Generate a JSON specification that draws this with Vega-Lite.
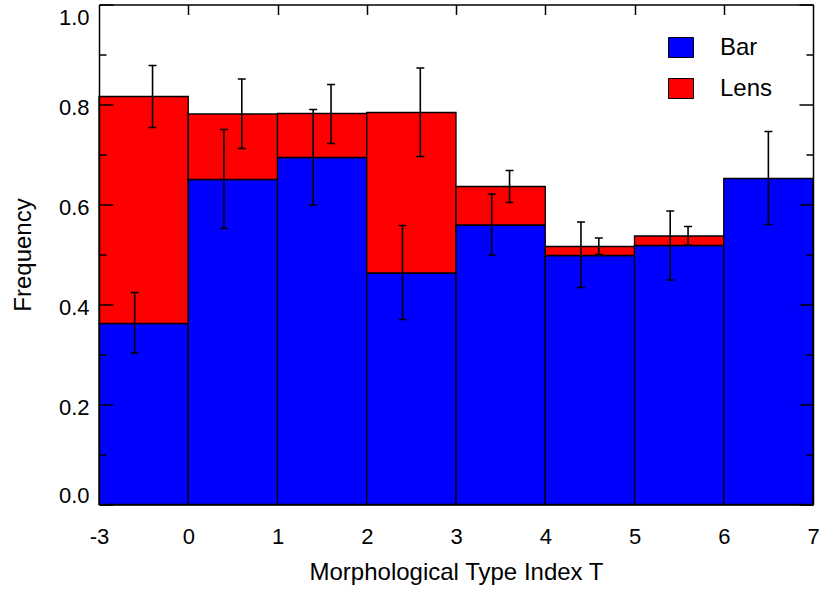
{
  "$schema": "https://vega.github.io/schema/vega-lite/v6.json",
  "width": 714,
  "height": 500,
  "autosize": {"type": "none"},
  "padding": {"left": 99, "top": 4.5, "right": 17, "bottom": 88.5},
  "background": "white",
  "config": {
    "view": {"stroke": null},
    "font": "Liberation Sans",
    "axis": {"labelColor": "black", "titleColor": "black", "tickColor": "black", "domainColor": "black", "grid": false, "titleFontWeight": "normal"}
  },
  "datasets": {
    "bins": [
      {"t0": -1, "t1": 0, "type": "Bar", "value": 0.362},
      {"t0": -1, "t1": 0, "type": "Lens", "value": 0.454},
      {"t0": 0, "t1": 1, "type": "Bar", "value": 0.650},
      {"t0": 0, "t1": 1, "type": "Lens", "value": 0.131},
      {"t0": 1, "t1": 2, "type": "Bar", "value": 0.694},
      {"t0": 1, "t1": 2, "type": "Lens", "value": 0.088},
      {"t0": 2, "t1": 3, "type": "Bar", "value": 0.463},
      {"t0": 2, "t1": 3, "type": "Lens", "value": 0.321},
      {"t0": 3, "t1": 4, "type": "Bar", "value": 0.559},
      {"t0": 3, "t1": 4, "type": "Lens", "value": 0.077},
      {"t0": 4, "t1": 5, "type": "Bar", "value": 0.498},
      {"t0": 4, "t1": 5, "type": "Lens", "value": 0.018},
      {"t0": 5, "t1": 6, "type": "Bar", "value": 0.518},
      {"t0": 5, "t1": 6, "type": "Lens", "value": 0.019},
      {"t0": 6, "t1": 7, "type": "Bar", "value": 0.652}
    ],
    "errs": [
      {"x": -0.6, "lo": 0.303, "hi": 0.424},
      {"x": 0.4, "lo": 0.552, "hi": 0.750},
      {"x": 1.4, "lo": 0.599, "hi": 0.790},
      {"x": 2.4, "lo": 0.370, "hi": 0.558},
      {"x": 3.4, "lo": 0.499, "hi": 0.621},
      {"x": 4.4, "lo": 0.434, "hi": 0.565},
      {"x": 5.4, "lo": 0.449, "hi": 0.587},
      {"x": 6.5, "lo": 0.560, "hi": 0.746},
      {"x": -0.4, "lo": 0.754, "hi": 0.878},
      {"x": 0.6, "lo": 0.712, "hi": 0.851},
      {"x": 1.6, "lo": 0.722, "hi": 0.840},
      {"x": 2.6, "lo": 0.696, "hi": 0.873},
      {"x": 3.6, "lo": 0.604, "hi": 0.668},
      {"x": 4.6, "lo": 0.500, "hi": 0.533},
      {"x": 5.6, "lo": 0.519, "hi": 0.556}
    ]
  },
  "layer": [
    {
      "data": {"name": "bins"},
      "transform": [
        {"stack": "value", "groupby": ["t0"], "sort": [{"field": "type", "order": "ascending"}], "as": ["v0", "v1"]}
      ],
      "mark": {"type": "rect", "stroke": "black", "strokeWidth": 1.3},
      "encoding": {
        "x": {
          "field": "t0", "type": "quantitative",
          "scale": {"domain": [-1, 7], "nice": false, "zero": false},
          "axis": {
            "orient": "bottom", "values": [-1, 0, 1, 2, 3, 4, 5, 6, 7],
            "labelExpr": "datum.value == -1 ? '-3' : datum.label",
            "labelFlush": false,
            "ticks": false, "domain": true, "domainWidth": 1.5, "zindex": 1,
            "labelFontSize": 22, "labelPadding": 22,
            "title": "Morphological Type Index T", "titleFontSize": 24, "titlePadding": 13
          }
        },
        "x2": {"field": "t1"},
        "y": {
          "field": "v0", "type": "quantitative",
          "scale": {"domain": [0, 1], "nice": false},
          "axis": {
            "orient": "left", "values": [0, 0.2, 0.4, 0.6, 0.8, 1.0], "format": ".1f",
            "ticks": false, "domain": true, "domainWidth": 1.5, "zindex": 1,
            "labelFontSize": 22, "labelPadding": 10, "labelFlush": true, "labelOffset": 3,
            "title": "Frequency", "titleFontSize": 24, "titlePadding": 23
          }
        },
        "y2": {"field": "v1"},
        "color": {
          "field": "type", "type": "nominal",
          "scale": {"domain": ["Bar", "Lens"], "range": ["#0000ff", "#ff0000"]},
          "legend": {
            "title": null, "orient": "none", "legendX": 569, "legendY": 30,
            "padding": 0, "labelFontSize": 24, "labelColor": "black",
            "symbolType": "M-1,-0.8H1V0.8H-1Z", "symbolSize": 625,
            "symbolStrokeColor": "black", "symbolStrokeWidth": 1, "symbolOpacity": 1,
            "labelOffset": 26, "rowPadding": 16
          }
        }
      }
    },
    {
      "data": {"name": "errs"},
      "mark": {"type": "rule", "color": "black", "strokeWidth": 1.6},
      "encoding": {
        "x": {
          "field": "x", "type": "quantitative",
          "scale": {"domain": [-1, 7], "nice": false, "zero": false},
          "axis": {
            "orient": "top", "values": [0, 1, 2, 3, 4, 5, 6],
            "labels": false, "ticks": true, "tickSize": -10, "tickWidth": 1.5,
            "domain": true, "domainWidth": 1.5, "title": null, "zindex": 1
          }
        },
        "y": {
          "field": "lo", "type": "quantitative",
          "scale": {"domain": [0, 1], "nice": false},
          "axis": {
            "orient": "left", "values": [0, 0.2, 0.4, 0.6, 0.8, 1.0],
            "labels": false, "ticks": true, "tickSize": -14, "tickWidth": 1.5,
            "domain": false, "title": null, "zindex": 1
          }
        },
        "y2": {"field": "hi"}
      }
    },
    {
      "data": {"name": "errs"},
      "mark": {"type": "tick", "orient": "horizontal", "color": "black", "opacity": 1, "size": 8, "thickness": 1.5},
      "encoding": {
        "x": {"field": "x", "type": "quantitative", "scale": {"domain": [-1, 7], "nice": false, "zero": false}, "axis": null},
        "y": {
          "field": "lo", "type": "quantitative",
          "scale": {"domain": [0, 1], "nice": false},
          "axis": {
            "orient": "left", "values": [0.1, 0.3, 0.5, 0.7, 0.9],
            "labels": false, "ticks": true, "tickSize": -7, "tickWidth": 1.5,
            "domain": false, "title": null, "zindex": 1
          }
        }
      }
    },
    {
      "data": {"name": "errs"},
      "mark": {"type": "tick", "orient": "horizontal", "color": "black", "opacity": 1, "size": 8, "thickness": 1.5},
      "encoding": {
        "x": {"field": "x", "type": "quantitative", "scale": {"domain": [-1, 7], "nice": false, "zero": false}, "axis": null},
        "y": {
          "field": "hi", "type": "quantitative",
          "scale": {"domain": [0, 1], "nice": false},
          "axis": {
            "orient": "right", "values": [0, 0.2, 0.4, 0.6, 0.8, 1.0],
            "labels": false, "ticks": true, "tickSize": -14, "tickWidth": 1.5,
            "domain": true, "domainWidth": 1.5, "title": null, "zindex": 1
          }
        }
      }
    },
    {
      "data": {"name": "errs"},
      "mark": {"type": "rule", "opacity": 0},
      "encoding": {
        "x": {"field": "x", "type": "quantitative", "scale": {"domain": [-1, 7], "nice": false, "zero": false}, "axis": null},
        "y": {
          "field": "lo", "type": "quantitative",
          "scale": {"domain": [0, 1], "nice": false},
          "axis": {
            "orient": "right", "values": [0.1, 0.3, 0.5, 0.7, 0.9],
            "labels": false, "ticks": true, "tickSize": -7, "tickWidth": 1.5,
            "domain": false, "title": null, "zindex": 1
          }
        },
        "y2": {"field": "hi"}
      }
    }
  ],
  "resolve": {"axis": {"x": "independent", "y": "independent"}}
}
